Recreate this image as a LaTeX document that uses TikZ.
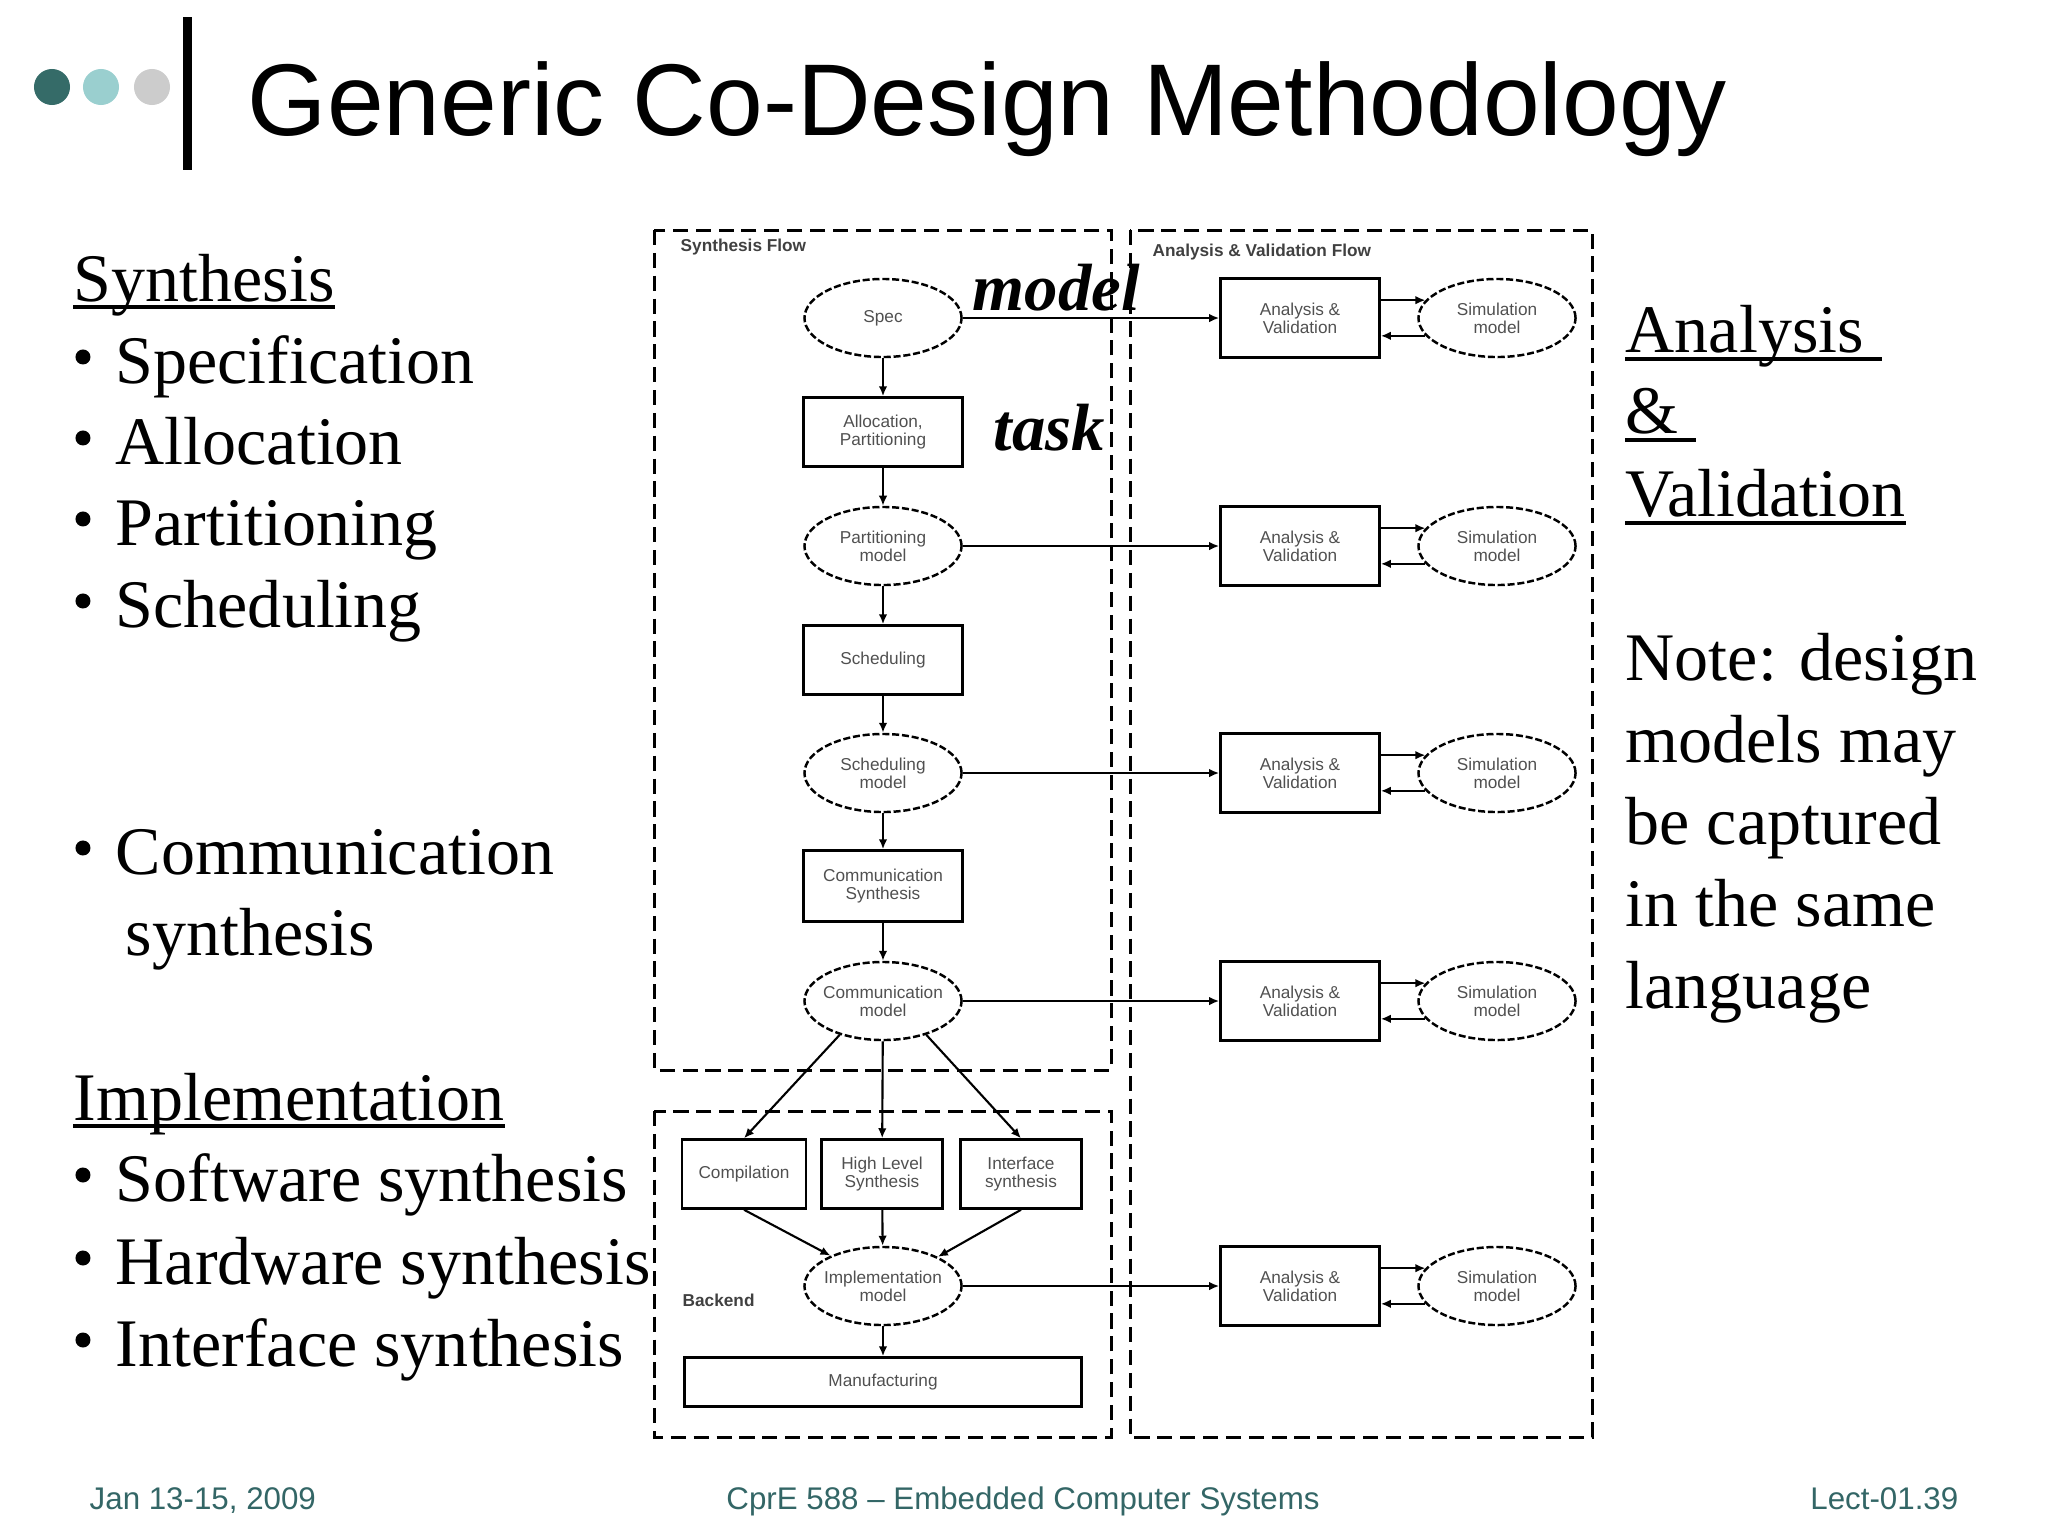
\documentclass[tikz,border=0pt]{standalone}
\usepackage{fontspec}
\setmainfont{Liberation Serif}
\newfontfamily\arial{Liberation Sans}
\usetikzlibrary{arrows.meta,shapes.geometric}

\definecolor{tealA}{HTML}{356B68}
\definecolor{tealB}{HTML}{9ACFCF}
\definecolor{greyC}{HTML}{CCCCCC}
\definecolor{footc}{HTML}{336666}
\definecolor{lblc}{HTML}{505050}

\tikzset{
 frame/.style={line width=0.85pt, dash pattern=on 4.3pt off 2.2pt},
 procbox/.style={draw, rectangle, line width=0.7pt, inner sep=0pt, align=center,
   minimum width=1.59cm, minimum height=0.69cm,
   font=\arial\fontsize{4.9}{5.15}\selectfont, text=lblc},
 modell/.style={draw, ellipse, line width=0.7pt, dash pattern=on 2pt off 0.8pt,
   minimum width=1.57cm, minimum height=0.78cm, inner ysep=0pt, inner xsep=-0.14cm, align=center,
   font=\arial\fontsize{4.9}{5.15}\selectfont, text=lblc},
 avbox/.style={procbox, minimum height=0.79cm},
 arr/.style={line width=0.6pt, -{Latex[length=0.1cm,width=0.085cm]}},
 flowlbl/.style={font=\arial\bfseries\fontsize{4.9}{5.15}\selectfont, text=black!75, anchor=west, inner sep=0pt},
 bigtext/.style={font=\fontsize{19.35}{23}\selectfont, anchor=base west, inner sep=0pt},
 emph/.style={font=\bfseries\itshape\fontsize{19}{23}\selectfont, anchor=base west, inner sep=0pt},
 uline/.style={line width=0.9pt},
 foottext/.style={font=\arial\fontsize{8.9}{10}\selectfont, text=footc, inner sep=0pt},
}

\begin{document}
\begin{tikzpicture}[x=0.01cm,y=-0.01cm]
\useasboundingbox (0,0) rectangle (2048,1536);

% ---- title bar
\fill[tealA] (52,87) circle (0.18cm);
\fill[tealB] (101,87) circle (0.18cm);
\fill[greyC] (152,87) circle (0.18cm);
\fill[black] (183,17) rectangle (192,170);
\node[anchor=base west, inner sep=0pt, font=\arial\fontsize{29}{34}\selectfont] (title) at (247,135) {Generic Co-Design Methodology};

% ---- left text
\node[bigtext] (syn) at (73,301) {Synthesis};
\draw[uline] ([yshift=-0.06cm]syn.base west) -- ([yshift=-0.06cm]syn.base east);
\node[bigtext] (l1) at (115,383) {Specification};
\node[bigtext] (l2) at (115,464) {Allocation};
\node[bigtext] (l3) at (115,545) {Partitioning};
\node[bigtext] (l4) at (115,627) {Scheduling};
\node[bigtext] (l5) at (115,874) {Communication};
\node[bigtext] (l5b) at (125,955) {synthesis};
\node[bigtext] (impl) at (73,1120) {Implementation};
\draw[uline] ([yshift=-0.06cm]impl.base west) -- ([yshift=-0.06cm]impl.base east);
\node[bigtext] (l6) at (115,1201) {Software synthesis};
\node[bigtext] (l7) at (115,1284) {Hardware synthesis};
\node[bigtext] (l8) at (115,1366) {Interface synthesis};
\foreach \n in {l1,l2,l3,l4,l5,l6,l7,l8}
  \fill ([xshift=-0.32cm,yshift=0.26cm]\n.base west) circle (0.075cm);

% ---- right text
\node[bigtext] (ra) at (1625,352) {Analysis\kern0.25em};
\draw[uline] ([yshift=-0.07cm]ra.base west) -- ([yshift=-0.07cm]ra.base east);
\node[bigtext] (rb) at (1625,433) {\&\kern0.25em};
\draw[uline] ([yshift=-0.07cm]rb.base west) -- ([yshift=-0.07cm]rb.base east);
\node[bigtext] (rc) at (1625,516) {Validation};
\draw[uline] ([yshift=-0.07cm]rc.base west) -- ([yshift=-0.07cm]rc.base east);
\node[bigtext] (n1) at (1625,680) {Note: design};
\node[bigtext] (n2) at (1625,762) {models may};
\node[bigtext] (n3) at (1625,844) {be captured};
\node[bigtext] (n4) at (1625,926) {in the same};
\node[bigtext] (n5) at (1625,1008) {language};

% ---- frames
\draw[frame] (654,230) rectangle (1111,1070);
\draw[frame] (654,1111) rectangle (1111,1437);
\draw[frame] (1130,230) rectangle (1592,1437);
\node[flowlbl] (sfl) at (680,247) {Synthesis Flow};
\node[flowlbl] (afl) at (1152,252) {Analysis \& Validation Flow};
\node[flowlbl] (bel) at (682,1300) {Backend};

% ---- synthesis column
\node[modell] (spec) at (883,318) {Spec};
\node[procbox] (alloc) at (883,432) {Allocation,\\Partitioning};
\node[modell] (pm) at (883,546) {Partitioning\\model};
\node[procbox] (sch) at (883,660) {Scheduling};
\node[modell] (sm) at (883,773) {Scheduling\\model};
\node[procbox, minimum height=0.71cm] (cs) at (883,886) {Communication\\Synthesis};
\node[modell] (cm) at (883,1001) {Communication\\model};
\node[procbox, minimum width=1.24cm] (comp) at (744,1174) {Compilation};
\node[procbox, minimum width=1.21cm] (hls) at (882,1174) {High Level\\Synthesis};
\node[procbox, minimum width=1.21cm] (ifs) at (1021,1174) {Interface\\synthesis};
\node[modell] (im) at (883,1286) {Implementation\\model};
\node[procbox, minimum width=3.97cm, minimum height=0.49cm] (man) at (883,1382) {Manufacturing};

\draw[arr] (spec) -- (alloc);
\draw[arr] (alloc) -- (pm);
\draw[arr] (pm) -- (sch);
\draw[arr] (sch) -- (sm);
\draw[arr] (sm) -- (cs);
\draw[arr] (cs) -- (cm);
\draw[arr] (cm.218) -- (comp.north);
\draw[arr] (cm) -- (hls);
\draw[arr] (cm.322) -- (ifs.north);
\draw[arr] (comp.south) -- (im.150);
\draw[arr] (hls) -- (im);
\draw[arr] (ifs.south) -- (im.28);
\draw[arr] (im) -- (man);

% ---- analysis column
\foreach \i/\y/\m in {1/318/spec,2/546/pm,3/773/sm,4/1001/cm,5/1286/im}{
  \node[avbox] (av\i) at (1300,\y) {Analysis \&\\Validation};
  \node[modell] (sim\i) at (1497,\y) {Simulation\\model};
  \draw[arr] (\m.east) -- (av\i.west);
  \draw[arr] (av\i.east |- sim\i.166) -- (sim\i.166);
  \draw[arr] (sim\i.194) -- (av\i.east |- sim\i.194);
}

% ---- big italic labels
\node[emph] (mdl) at (972,310) {model};
\node[emph] (tsk) at (993,450) {task};

% ---- footer
\node[foottext, anchor=base west] (fd) at (89,1509) {Jan 13-15, 2009};
\node[foottext, anchor=base] (fc) at (1023,1509) {CprE 588 – Embedded Computer Systems};
\node[foottext, anchor=base east] (fr) at (1959,1509) {Lect-01.39};
\end{tikzpicture}
\end{document}
